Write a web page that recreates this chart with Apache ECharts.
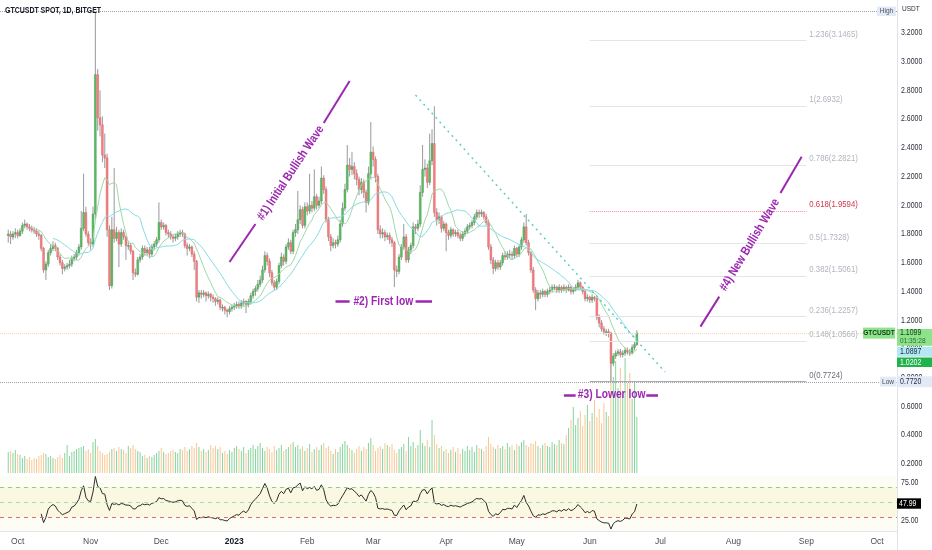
<!DOCTYPE html>
<html><head><meta charset="utf-8">
<script src="https://cdn.jsdelivr.net/npm/echarts@6/dist/echarts.min.js"></script>
<style>html,body{margin:0;padding:0;background:#fff}#c{width:932px;height:550px}</style>
</head><body><div id="c"></div>
<script>
const FONT = "'Liberation Sans Narrow','Liberation Sans',Arial,sans-serif";
const NARROW = 0.82;  // horizontal squeeze of the reference's condensed type
const symbolTitle = 'GTCUSDT SPOT, 1D, BITGET';
const axisStart = '2022-09-24';      // first category on the time axis
const axisDays = 381;                 // categories up to 2023-10-09
const firstCandleIndex = 3;           // first candle: 2022-09-27
const monthNames = ['Jan','Feb','Mar','Apr','May','Jun','Jul','Aug','Sep','Oct','Nov','Dec'];
const priceTicks = [0.2,0.4,0.6,0.8,1.0,1.2,1.4,1.6,1.8,2.0,2.2,2.4,2.6,2.8,3.0,3.2];
const rsiTicks = [25, 75];

const openP = [
1.79,1.80,1.78,1.80,1.81,1.79,1.82,1.86,1.87,1.85,
1.84,1.83,1.82,1.80,1.79,1.70,1.55,1.59,1.67,1.70,
1.72,1.70,1.64,1.60,1.56,1.57,1.58,1.59,1.63,1.64,
1.67,1.71,1.84,1.95,1.80,1.74,1.73,1.94,2.91,2.61,
2.56,2.35,2.33,1.83,1.44,1.83,1.77,1.81,1.73,1.81,
1.78,1.72,1.72,1.68,1.53,1.52,1.62,1.64,1.70,1.67,
1.69,1.66,1.71,1.73,1.76,1.88,1.85,1.86,1.81,1.80,
1.78,1.77,1.78,1.80,1.81,1.80,1.72,1.70,1.71,1.66,
1.61,1.36,1.39,1.38,1.39,1.37,1.38,1.36,1.35,1.33,
1.34,1.29,1.29,1.27,1.26,1.28,1.29,1.30,1.31,1.30,
1.32,1.33,1.31,1.33,1.37,1.40,1.42,1.45,1.48,1.55,
1.65,1.61,1.53,1.46,1.43,1.47,1.58,1.64,1.61,1.71,
1.74,1.68,1.81,1.83,1.90,1.97,1.86,1.99,1.96,2.00,
1.98,2.06,2.00,2.03,2.19,2.11,1.90,1.78,1.72,1.74,
1.73,1.76,1.87,1.98,2.11,2.28,2.25,2.27,2.22,2.18,
2.11,2.16,2.09,2.02,2.22,2.37,2.32,2.20,1.83,1.80,
1.81,1.78,1.79,1.76,1.74,1.55,1.54,1.64,1.71,1.78,
1.62,1.69,1.72,1.85,1.84,1.87,2.09,2.25,2.26,2.16,
2.31,2.43,1.95,1.90,1.92,1.84,1.87,1.81,1.79,1.83,
1.80,1.81,1.79,1.77,1.80,1.82,1.85,1.86,1.88,1.92,
1.95,1.94,1.95,1.92,1.88,1.71,1.62,1.56,1.60,1.57,
1.60,1.65,1.64,1.66,1.66,1.65,1.70,1.66,1.71,1.76,
1.85,1.74,1.67,1.55,1.41,1.35,1.39,1.38,1.40,1.38,
1.40,1.41,1.43,1.43,1.41,1.43,1.41,1.43,1.41,1.43,
1.40,1.41,1.43,1.46,1.43,1.40,1.35,1.36,1.34,1.36,
1.35,1.22,1.18,1.14,1.12,1.12,1.11,0.90,0.95,0.97,
0.98,0.96,0.97,0.99,0.98,0.97,1.01,1.03];

const closeP = [
1.80,1.78,1.80,1.81,1.79,1.82,1.86,1.87,1.85,1.84,
1.83,1.82,1.80,1.79,1.70,1.55,1.59,1.67,1.70,1.72,
1.70,1.64,1.60,1.56,1.57,1.58,1.59,1.63,1.64,1.67,
1.71,1.84,1.95,1.80,1.74,1.73,1.94,2.91,2.61,2.56,
2.35,2.33,1.83,1.44,1.83,1.77,1.81,1.73,1.81,1.78,
1.72,1.72,1.68,1.53,1.52,1.62,1.64,1.70,1.67,1.69,
1.66,1.71,1.73,1.76,1.88,1.85,1.86,1.81,1.80,1.78,
1.77,1.78,1.80,1.81,1.80,1.72,1.70,1.71,1.66,1.61,
1.36,1.39,1.38,1.39,1.37,1.38,1.36,1.35,1.33,1.34,
1.29,1.29,1.27,1.26,1.28,1.29,1.30,1.31,1.30,1.32,
1.33,1.31,1.33,1.37,1.40,1.42,1.45,1.48,1.55,1.65,
1.61,1.53,1.46,1.43,1.47,1.58,1.64,1.61,1.71,1.74,
1.68,1.81,1.83,1.90,1.97,1.86,1.99,1.96,2.00,1.98,
2.06,2.00,2.03,2.19,2.11,1.90,1.78,1.72,1.74,1.73,
1.76,1.87,1.98,2.11,2.28,2.25,2.27,2.22,2.18,2.11,
2.16,2.09,2.02,2.22,2.37,2.32,2.20,1.83,1.80,1.81,
1.78,1.79,1.76,1.74,1.55,1.54,1.64,1.71,1.78,1.62,
1.69,1.72,1.85,1.84,1.87,2.09,2.25,2.26,2.16,2.31,
2.43,1.95,1.90,1.92,1.84,1.87,1.81,1.79,1.83,1.80,
1.81,1.79,1.77,1.80,1.82,1.85,1.86,1.88,1.92,1.95,
1.94,1.95,1.92,1.88,1.71,1.62,1.56,1.60,1.57,1.60,
1.65,1.64,1.66,1.66,1.65,1.70,1.66,1.71,1.76,1.85,
1.74,1.67,1.55,1.41,1.35,1.39,1.38,1.40,1.38,1.40,
1.41,1.43,1.43,1.41,1.43,1.41,1.43,1.41,1.43,1.40,
1.41,1.43,1.46,1.43,1.40,1.35,1.36,1.34,1.36,1.35,
1.22,1.18,1.14,1.12,1.12,1.11,0.90,0.95,0.97,0.98,
0.96,0.97,0.99,0.98,0.97,1.01,1.03,1.1099];

const lowP = [
1.74,1.73,1.76,1.77,1.77,1.78,1.80,1.84,1.83,1.82,
1.81,1.80,1.78,1.76,1.68,1.53,1.48,1.57,1.65,1.68,
1.68,1.62,1.58,1.52,1.54,1.55,1.56,1.57,1.61,1.62,
1.65,1.69,1.82,1.78,1.72,1.69,1.71,1.90,2.52,2.48,
2.30,2.26,1.78,1.41,1.42,1.74,1.75,1.57,1.71,1.76,
1.62,1.69,1.66,1.48,1.50,1.51,1.60,1.62,1.65,1.65,
1.63,1.64,1.69,1.71,1.74,1.83,1.83,1.79,1.77,1.76,
1.74,1.75,1.76,1.78,1.78,1.70,1.65,1.68,1.64,1.55,
1.33,1.32,1.35,1.36,1.33,1.35,1.33,1.32,1.30,1.31,
1.27,1.26,1.24,1.22,1.24,1.26,1.27,1.28,1.28,1.28,
1.30,1.25,1.29,1.31,1.35,1.37,1.40,1.43,1.46,1.53,
1.58,1.50,1.44,1.41,1.41,1.45,1.56,1.58,1.59,1.69,
1.66,1.66,1.78,1.80,1.87,1.84,1.84,1.93,1.94,1.95,
1.96,1.97,1.98,2.01,2.08,1.88,1.75,1.68,1.70,1.70,
1.71,1.74,1.85,1.96,2.09,2.20,2.21,2.18,2.14,2.07,
2.08,2.05,1.95,2.00,2.18,2.27,2.16,1.80,1.77,1.77,
1.75,1.76,1.73,1.71,1.43,1.50,1.52,1.62,1.69,1.60,
1.60,1.66,1.70,1.80,1.82,1.85,2.06,2.20,2.12,2.14,
2.28,1.92,1.86,1.87,1.81,1.82,1.68,1.76,1.77,1.78,
1.78,1.77,1.75,1.75,1.78,1.80,1.83,1.84,1.86,1.90,
1.91,1.92,1.90,1.86,1.69,1.59,1.52,1.54,1.55,1.55,
1.58,1.62,1.62,1.63,1.62,1.63,1.64,1.64,1.69,1.74,
1.72,1.65,1.53,1.39,1.27,1.33,1.35,1.36,1.36,1.36,
1.38,1.39,1.41,1.39,1.39,1.39,1.40,1.39,1.40,1.38,
1.38,1.40,1.41,1.41,1.38,1.33,1.33,1.32,1.32,1.33,
1.20,1.15,1.12,1.10,1.09,1.08,0.772,0.88,0.93,0.95,
0.94,0.94,0.95,0.96,0.95,0.96,0.99,1.02];

const highP = [
1.83,1.82,1.82,1.84,1.83,1.84,1.88,1.90,1.88,1.87,
1.86,1.85,1.84,1.82,1.80,1.71,1.61,1.69,1.73,1.75,
1.74,1.71,1.66,1.62,1.59,1.60,1.62,1.65,1.66,1.69,
1.73,1.96,2.22,1.99,1.82,1.77,1.99,3.35,2.95,2.80,
2.62,2.50,2.36,1.86,1.92,2.26,1.85,1.83,1.84,1.83,
1.79,1.75,1.74,1.69,1.56,1.64,1.66,1.72,1.72,1.71,
1.71,1.73,1.75,1.78,2.02,1.90,1.88,1.87,1.83,1.82,
1.80,1.80,1.82,1.83,1.83,1.81,1.74,1.73,1.72,1.68,
1.62,1.41,1.41,1.41,1.40,1.40,1.39,1.38,1.36,1.36,
1.35,1.31,1.30,1.28,1.30,1.31,1.32,1.33,1.33,1.34,
1.35,1.34,1.35,1.39,1.42,1.44,1.48,1.51,1.58,1.68,
1.67,1.63,1.55,1.48,1.49,1.60,1.67,1.66,1.73,1.77,
1.76,1.83,1.87,2.10,2.00,1.99,2.02,2.02,2.22,2.03,
2.25,2.08,2.06,2.27,2.21,2.13,1.92,1.80,1.77,1.76,
1.79,1.90,2.02,2.15,2.42,2.33,2.37,2.30,2.25,2.20,
2.19,2.18,2.11,2.27,2.58,2.41,2.34,2.22,1.86,1.84,
1.83,1.81,1.81,1.78,1.75,1.58,1.66,1.73,1.87,1.80,
1.71,1.74,1.88,1.87,1.90,2.14,2.42,2.32,2.29,2.50,
2.53,2.69,1.98,1.95,1.93,1.89,1.88,1.83,1.85,1.84,
1.83,1.83,1.81,1.82,1.84,1.87,1.88,1.90,1.94,1.97,
1.97,1.97,1.96,1.94,1.90,1.73,1.64,1.62,1.62,1.62,
1.67,1.68,1.68,1.69,1.68,1.72,1.71,1.73,1.78,1.88,
1.94,1.76,1.68,1.57,1.43,1.41,1.41,1.42,1.41,1.42,
1.43,1.45,1.45,1.44,1.45,1.44,1.45,1.44,1.45,1.44,
1.43,1.45,1.48,1.47,1.44,1.41,1.38,1.37,1.38,1.37,
1.36,1.24,1.20,1.16,1.14,1.14,1.12,0.97,0.99,1.00,
1.00,0.99,1.01,1.01,1.00,1.03,1.05,1.13];

const volumeP = [
21,22,20,23,19,18,15,17,14,16,13,15,14,17,18,
20,19,16,17,15,14,16,18,15,20,28,17,21,22,24,25,
26,27,22,24,20,31,34,27,22,20,18,19,21,24,25,
22,26,24,23,20,27,25,28,24,22,21,17,18,15,17,
16,18,20,22,25,21,19,20,22,23,21,20,24,23,26,
22,24,27,25,30,26,22,24,21,23,28,25,27,24,26,
20,22,19,23,21,25,27,24,22,26,20,23,25,28,24,
27,30,25,22,26,24,21,27,23,25,28,22,24,26,29,
31,26,28,24,27,22,25,29,21,24,26,23,28,30,25,
27,22,19,24,21,26,29,32,28,25,23,20,24,27,22,
26,24,30,35,28,22,25,27,24,30,28,26,29,23,20,
24,26,29,22,36,27,31,25,28,43,30,27,33,26,53,
38,29,25,27,22,24,20,23,26,21,25,19,24,22,27,
23,26,21,28,25,24,22,27,36,29,26,24,28,25,27,
24,30,26,28,23,29,27,31,33,28,26,30,29,32,27,
25,28,30,27,26,31,29,28,33,30,29,38,45,53,66,
48,55,62,47,58,68,52,60,73,56,64,50,70,61,57,
118,96,112,85,105,78,115,90,100,74,92,56];

const fibRatios = ['1.236','1','0.786','0.618','0.5','0.382','0.236','0.148','0'];
const fibPrices = [3.1465,2.6932,2.2821,1.9594,1.7328,1.5061,1.2257,1.0566,0.7724];
const highPrice = 3.353, lowPrice = 0.7720, lastPrice = 1.1099;
const lastTime = '01:35:28', ma1Tag = '1.0897', ma2Tag = '1.0202', rsiTag = '47.99';

[openP, closeP, lowP, highP, volumeP].forEach((a, k) => {
  if (a.length !== 268) throw new Error('array ' + k + ' length ' + a.length);
});

const cats = [];
{
  const t0 = Date.parse(axisStart + 'T00:00:00Z');
  for (let i = 0; i < axisDays; i++) cats.push(new Date(t0 + i * 86400000).toISOString().slice(0, 10));
}
const pad = new Array(firstCandleIndex).fill('-');

function sma(arr, n) {
  return arr.map((v, i) => {
    if (i < n - 1) return '-';
    let s = 0; for (let k = i - n + 1; k <= i; k++) s += arr[k];
    return +(s / n).toFixed(4);
  });
}
function rsi(cl, n) {
  const out = ['-']; let g = 0, l = 0;
  for (let i = 1; i < cl.length; i++) {
    const d = cl[i] - cl[i - 1], up = Math.max(d, 0), dn = Math.max(-d, 0);
    if (i <= n) {
      g += up; l += dn;
      if (i === n) { g /= n; l /= n; out.push(+(100 - 100 / (1 + g / l)).toFixed(2)); }
      else out.push('-');
    } else {
      g = (g * (n - 1) + up) / n; l = (l * (n - 1) + dn) / n;
      out.push(l === 0 ? 100 : +(100 - 100 / (1 + g / l)).toFixed(2));
    }
  }
  return out;
}

const candleData = closeP.map((c, i) => [i + firstCandleIndex, openP[i], c, lowP[i], highP[i]]);
const volData = pad.concat(volumeP.map((v, i) => ({
  value: v, itemStyle: { color: closeP[i] >= openP[i] ? '#86d49d' : '#f8c793' }
})));
const ma10 = pad.concat(sma(closeP, 10));
const ma20 = pad.concat(sma(closeP, 20));
const rsiData = pad.concat(rsi(closeP, 14));

const PURPLE = '#9c27b0';
function seg(x1, y1, x2, y2, style) { return [{ coord: [x1, y1], lineStyle: style }, { coord: [x2, y2] }]; }
const purple = { color: PURPLE, width: 2, type: 'solid' };
const purpleDash = { color: PURPLE, width: 2.5, type: 'solid' };

const fibStart = 250, fibEnd = 342;
const markLines = [];
fibPrices.forEach((p, k) => {
  let st = { color: '#e3e5ea', width: 1, type: 'solid' };
  if (fibRatios[k] === '0.618') st = { color: '#ec8d98', width: 1, type: 'dotted' };
  if (fibRatios[k] === '0') st = { color: '#a9abb3', width: 1.2, type: 'solid' };
  markLines.push(seg(fibStart, p, fibEnd, p, st));
});
markLines.push({ yAxis: highPrice, lineStyle: { color: '#9ea1aa', type: 'dotted', width: 1 } });
markLines.push({ yAxis: lowPrice, lineStyle: { color: '#9ea1aa', type: 'dotted', width: 1 } });
markLines.push({ yAxis: lastPrice, lineStyle: { color: '#f3d9b8', type: 'dotted', width: 1 } });
markLines.push(seg(176, 2.768, 282, 0.839, { color: '#5ccfc4', width: 1.5, type: [2, 4] }));
markLines.push(seg(97, 1.605, 108, 1.870, purple));
markLines.push(seg(137, 2.573, 148, 2.866, purple));
markLines.push(seg(297, 1.155, 305, 1.364, purple));
markLines.push(seg(331, 2.086, 340, 2.339, purple));
markLines.push(seg(142, 1.329, 148, 1.329, purpleDash));
markLines.push(seg(176, 1.329, 183, 1.329, purpleDash));
markLines.push(seg(239, 0.679, 244, 0.679, purpleDash));
markLines.push(seg(274, 0.679, 279, 0.679, purpleDash));

const option = {
  animation: false,
  backgroundColor: '#ffffff',
  grid: [
    { left: 0, right: 35, top: 4.28, bottom: 57.5, outerBoundsMode: 'none' },
    { left: 0, right: 35, top: 333, bottom: 77, outerBoundsMode: 'none' },
    { left: 0, right: 35, top: 476, bottom: 19, outerBoundsMode: 'none', show: true, backgroundColor: '#fefdf5', borderWidth: 0 }
  ],
  xAxis: [
    { type: 'category', gridIndex: 0, data: cats, boundaryGap: true, show: false },
    { type: 'category', gridIndex: 1, data: cats, boundaryGap: true, show: false },
    { type: 'category', gridIndex: 2, data: cats, boundaryGap: true,
      axisLine: { show: true, lineStyle: { color: '#e0e3eb', width: 1 } },
      axisTick: { show: false }, splitLine: { show: false },
      axisLabel: {
        interval: (idx, val) => val.slice(8, 10) === '01',
        margin: 6, color: '#4a4d57', fontSize: 8.5, fontFamily: FONT,
        formatter: (val) => {
          const m = +val.slice(5, 7);
          return m === 1 ? '{y|' + val.slice(0, 4) + '}' : monthNames[m - 1];
        },
        rich: { y: { fontWeight: 'bold', color: '#131722', fontSize: 8.5, fontFamily: FONT } }
      } }
  ],
  yAxis: [
    { type: 'value', gridIndex: 0, position: 'right', min: 0, max: 3.4, interval: 0.2,
      axisLine: { show: false }, axisTick: { show: false }, splitLine: { show: false }, axisLabel: { show: false } },
    { type: 'value', gridIndex: 1, min: 0, max: 140, show: false },
    { type: 'value', gridIndex: 2, position: 'right', min: 11.84, max: 84.21,
      axisLine: { show: false }, axisTick: { show: false }, splitLine: { show: false }, axisLabel: { show: false } }
  ],
  series: [
    { type: 'bar', name: 'Volume', xAxisIndex: 1, yAxisIndex: 1, data: volData, barWidth: 1, z: 1, silent: true },
    { type: 'custom', name: 'GTCUSDT', xAxisIndex: 0, yAxisIndex: 0, z: 3, silent: true,
      encode: { x: 0, y: [1, 2, 3, 4] }, data: candleData,
      renderItem: (params, api) => {
        const idx = api.value(0), o = api.value(1), c = api.value(2), l = api.value(3), h = api.value(4);
        const pO = api.coord([idx, o]), pC = api.coord([idx, c]), pL = api.coord([idx, l]), pH = api.coord([idx, h]);
        const w = api.size([1, 0])[0] * 0.8;
        const up = c >= o;
        const top = Math.min(pO[1], pC[1]);
        const hh = Math.max(Math.abs(pO[1] - pC[1]), 0.9);
        return { type: 'group', children: [
          { type: 'line', shape: { x1: pL[0], y1: pL[1], x2: pH[0], y2: pH[1] }, style: { stroke: '#7d7f86', lineWidth: 0.8 } },
          { type: 'rect', shape: { x: pO[0] - w / 2, y: top, width: w, height: hh },
            style: { fill: up ? '#5dbd63' : '#f47f7f', stroke: up ? '#3f9146' : '#d95b5e', lineWidth: 0.4 } }
        ] };
      } },
    { type: 'line', name: 'MA10', xAxisIndex: 0, yAxisIndex: 0, data: ma10, showSymbol: false, z: 4, silent: true,
      lineStyle: { color: '#9ed9a6', width: 1 } },
    { type: 'line', name: 'MA20', xAxisIndex: 0, yAxisIndex: 0, data: ma20, showSymbol: false, z: 4, silent: true,
      lineStyle: { color: '#86dce3', width: 1 },
      markLine: { silent: true, symbol: ['none', 'none'], label: { show: false }, animation: false, data: markLines } },
    { type: 'line', name: 'RSI', xAxisIndex: 2, yAxisIndex: 2, data: rsiData, showSymbol: false, z: 4, silent: true,
      lineStyle: { color: '#2b2b2b', width: 1 },
      markArea: { silent: true, itemStyle: { color: '#fbf8e2' }, data: [[{ yAxis: 70 }, { yAxis: 30 }]] },
      markLine: { silent: true, symbol: ['none', 'none'], label: { show: false }, data: [
        { yAxis: 70, lineStyle: { color: '#86cf9a', type: [4, 4], width: 1 } },
        { yAxis: 50, lineStyle: { color: '#a6dcb5', type: [4, 4], width: 1 } },
        { yAxis: 30, lineStyle: { color: '#e46a6a', type: [4, 4], width: 1 } }
      ] } }
  ]
};

const chart = echarts.init(document.getElementById('c'), null, { renderer: 'canvas' });
chart.setOption(option);

const P = (idx, price) => chart.convertToPixel({ xAxisIndex: 0, yAxisIndex: 0 }, [idx, price]);
const Y = (price) => chart.convertToPixel({ yAxisIndex: 0 }, price);
const YR = (v) => chart.convertToPixel({ yAxisIndex: 2 }, v);
const G = [];
function rect(x, y, w, h, fill) { G.push({ type: 'rect', z: 100, shape: { x, y, width: w, height: h }, style: { fill } }); }
function text(x, y, t, color, size, weight, align, rot, z) {
  G.push({ type: 'text', z: z || 101, x, y, rotation: rot || 0, scaleX: NARROW, scaleY: 1,
    style: { text: t, fill: color, font: (weight || 'normal') + ' ' + size + 'px ' + FONT,
      textAlign: align || 'left', textVerticalAlign: 'middle', align: align || 'left', verticalAlign: 'middle' } });
}
G.push({ type: 'line', z: 99, shape: { x1: 897.5, y1: 0, x2: 897.5, y2: 550 }, style: { stroke: '#e0e3eb', lineWidth: 1 } });
text(5, 11, symbolTitle, '#131722', 8.5, 'bold');
text(902, 9, 'USDT', '#2a2e39', 8);
// price axis labels (drawn under the price tags)
priceTicks.forEach(v => text(901, Y(v), v.toFixed(4), '#2a2e39', 8.5, 'normal', 'left', 0, 50));
rsiTicks.forEach(v => text(901, YR(v), v.toFixed(2), '#2a2e39', 8.5, 'normal', 'left', 0, 50));
// fib labels
fibPrices.forEach((p, k) => {
  const pt = P(fibEnd, p);
  let col = '#b2b5be';
  if (fibRatios[k] === '0.618') col = '#d2354c';
  if (fibRatios[k] === '0') col = '#6a6d78';
  text(pt[0] + 3, pt[1] - 6.5, fibRatios[k] + '(' + p.toFixed(4) + ')', col, 9.5);
});
// annotations
const a1 = P(123, 2.225); text(a1[0], a1[1], '#1) Initial Bullish Wave', PURPLE, 12.5, 'bold', 'center', 56.5 * Math.PI / 180);
const a4 = P(318, 1.724); text(a4[0], a4[1], '#4) New Bullish Wave', PURPLE, 12.5, 'bold', 'center', 59.1 * Math.PI / 180);
const a2 = P(162, 1.329); text(a2[0] + 0.7, a2[1], '#2) First low', PURPLE, 12.5, 'bold', 'center');
const a3 = P(259, 0.679); text(a3[0] + 0.7, a3[1], '#3) Lower low', PURPLE, 12.5, 'bold', 'center');
// price tags
const y0 = Y(lastPrice);
rect(863, y0 - 5.5, 32, 11, '#8ce38a'); text(879, y0, 'GTCUSDT', '#0d3b12', 8, 'bold', 'center');
rect(897, y0 - 4, 35, 16.7, '#8ce38a'); text(900, y0, lastPrice.toFixed(4), '#0d3b12', 8.5); text(900, y0 + 8, lastTime, '#2f6b34', 8);
rect(897, y0 + 14, 35, 9.6, '#b3e8f4'); text(900, y0 + 18.8, ma1Tag, '#0d2d3b', 8.5);
rect(897, y0 + 24.4, 35, 9.6, '#22b24c'); text(900, y0 + 29.2, ma2Tag, '#ffffff', 8.5);
const yL = Y(lowPrice);
rect(880, yL - 5, 16.5, 10, '#e3eaf6'); text(888, yL, 'Low', '#4a5060', 8, 'normal', 'center');
rect(897, yL - 5.5, 35, 11, '#e3eaf6'); text(900, yL, lowPrice.toFixed(4), '#1f2a44', 8.5);
const yH = Y(highPrice);
rect(877, yH - 4.5, 19, 9.5, '#e3eaf6'); text(886.5, yH, 'High', '#4a5060', 8, 'normal', 'center');
const yr = YR(+rsiTag);
rect(897, yr - 5.2, 24, 10.4, '#000000'); text(899, yr, rsiTag, '#ffffff', 8.5);

chart.setOption({ graphic: { elements: G } });
</script>
</body></html>
